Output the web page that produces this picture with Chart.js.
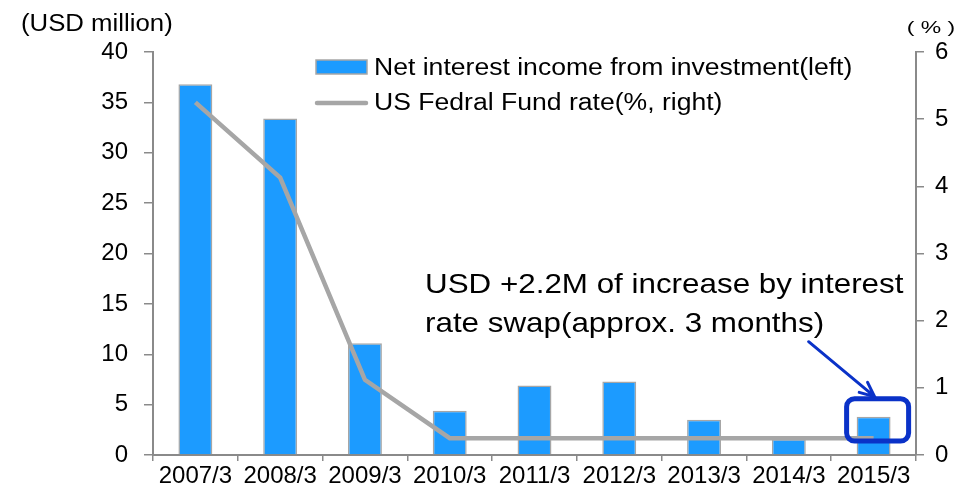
<!DOCTYPE html>
<html>
<head>
<meta charset="utf-8">
<script src="https://cdn.jsdelivr.net/npm/chart.js@4/dist/chart.umd.min.js"></script>
<style>
  html, body { margin: 0; padding: 0; background: #ffffff; }
  #wrap { width: 959px; height: 494px; }
</style>
</head>
<body>
<div id="wrap"><canvas id="c" width="959" height="494"></canvas></div>
<script>
// Fiscal periods
const categories = ['2007/3', '2008/3', '2009/3', '2010/3', '2011/3', '2012/3', '2013/3', '2014/3', '2015/3'];
// Net interest income from investment (USD million, left axis)
const netInterestIncome = [36.8, 33.4, 11.1, 4.4, 6.9, 7.3, 3.5, 1.6, 3.8];
// US Federal Fund rate (%, right axis)
const fedFundRate = [5.25, 4.13, 1.12, 0.25, 0.25, 0.25, 0.25, 0.25, 0.25];
// Axis tick values
const leftTicks = [0, 5, 10, 15, 20, 25, 30, 35, 40];
const rightTicks = [0, 1, 2, 3, 4, 5, 6];

const seriesNames = ['Net interest income from investment(left)', 'US Fedral Fund rate(%, right)'];
const noteLines = ['USD +2.2M of increase by interest', 'rate swap(approx. 3 months)'];

const FONT = "'Liberation Sans', Arial, sans-serif";
const BLUE = '#1C9BFF';
const GREY_LINE = '#a6a6a6';
const AXIS = '#8a8a8a';
const NAVY = '#0a32c8';

function stretchedText(ctx, text, x, y, size, sx, align) {
  ctx.save();
  ctx.font = size + 'px ' + FONT;
  ctx.fillStyle = '#000';
  ctx.textBaseline = 'alphabetic';
  const w = ctx.measureText(text).width * sx;
  let x0 = x;
  if (align === 'right') x0 = x - w;
  if (align === 'center') x0 = x - w / 2;
  ctx.translate(x0, y);
  ctx.scale(sx, 1);
  ctx.textAlign = 'left';
  ctx.fillText(text, 0, 0);
  ctx.restore();
}

const decorations = {
  id: 'decorations',
  afterDraw(chart) {
    const ctx = chart.ctx;
    const xs = chart.scales.x;
    const ys = chart.scales.y;

    // axis unit captions
    stretchedText(ctx, '(USD million)', 21, 31, 23, 1.12, 'left');
    stretchedText(ctx, '( % )', 931, 33, 17, 1.35, 'center');

    // legend
    ctx.save();
    ctx.fillStyle = BLUE;
    ctx.strokeStyle = GREY_LINE;
    ctx.lineWidth = 1.5;
    ctx.fillRect(316, 60, 51, 14);
    ctx.strokeRect(316, 60, 51, 14);
    ctx.strokeStyle = GREY_LINE;
    ctx.lineWidth = 4.5;
    ctx.lineCap = 'round';
    ctx.beginPath();
    ctx.moveTo(317, 103);
    ctx.lineTo(366, 103);
    ctx.stroke();
    ctx.restore();
    stretchedText(ctx, seriesNames[0], 374, 75, 23, 1.155, 'left');
    stretchedText(ctx, seriesNames[1], 374, 110, 23, 1.155, 'left');

    // note text
    stretchedText(ctx, noteLines[0], 425, 293, 28, 1.12, 'left');
    stretchedText(ctx, noteLines[1], 425, 332, 28, 1.12, 'left');

    // highlight box around the latest bar
    const last = categories.length - 1;
    const cx = xs.getPixelForValue(last);
    const top = ys.getPixelForValue(netInterestIncome[last]) - 18;
    const bottom = ys.getPixelForValue(0) - 14;
    const left = cx - 27, right = cx + 35;
    ctx.save();
    ctx.strokeStyle = NAVY;
    ctx.lineWidth = 5;
    ctx.beginPath();
    ctx.roundRect(left, top, right - left, bottom - top, 8);
    ctx.stroke();

    // arrow pointing at the box
    const ex = cx + 1, ey = top - 2;
    const sx = ex - 66, sy = ey - 55;
    ctx.lineWidth = 3;
    ctx.lineCap = 'round';
    ctx.beginPath();
    ctx.moveTo(sx, sy);
    ctx.lineTo(ex, ey);
    const ang = Math.atan2(ey - sy, ex - sx);
    const hl = 16, ha = 0.42;
    ctx.moveTo(ex - hl * Math.cos(ang - ha), ey - hl * Math.sin(ang - ha));
    ctx.lineTo(ex, ey);
    ctx.lineTo(ex - hl * Math.cos(ang + ha), ey - hl * Math.sin(ang + ha));
    ctx.stroke();
    ctx.restore();
  }
};

new Chart(document.getElementById('c'), {
  data: {
    labels: categories,
    datasets: [
      {
        type: 'line',
        label: seriesNames[1],
        data: fedFundRate,
        yAxisID: 'y1',
        borderColor: GREY_LINE,
        borderWidth: 4.5,
        pointRadius: 0,
        tension: 0,
        fill: false,
        order: 0
      },
      {
        type: 'bar',
        label: seriesNames[0],
        data: netInterestIncome,
        yAxisID: 'y',
        backgroundColor: BLUE,
        borderColor: GREY_LINE,
        borderWidth: 1.5,
        borderSkipped: 'bottom',
        barPercentage: 0.4,
        categoryPercentage: 1.0,
        order: 1
      }
    ]
  },
  options: {
    responsive: false,
    animation: false,
    devicePixelRatio: 1,
    layout: { padding: { top: 52, left: 0, right: 0, bottom: 0 } },
    plugins: { legend: { display: false }, tooltip: { enabled: false } },
    scales: {
      x: {
        type: 'category',
        offset: true,
        border: { display: true, color: AXIS, width: 2 },
        grid: { display: true, offset: true, drawOnChartArea: false, drawTicks: true, tickLength: 6, color: AXIS, lineWidth: 1.5 },
        ticks: { color: '#000', font: { family: FONT, size: 24 }, padding: 1, maxRotation: 0, autoSkip: false },
        afterFit(s) { s.height = 39; }
      },
      y: {
        position: 'left',
        min: 0, max: 40,
        afterBuildTicks(s) { s.ticks = leftTicks.map(v => ({ value: v })); },
        border: { display: true, color: AXIS, width: 2 },
        grid: { display: true, drawOnChartArea: false, drawTicks: true, tickLength: 9, color: AXIS, lineWidth: 1.5 },
        ticks: { color: '#000', font: { family: FONT, size: 24 }, padding: 16 },
        afterFit(s) { s.width = 153; }
      },
      y1: {
        position: 'right',
        min: 0, max: 6,
        afterBuildTicks(s) { s.ticks = rightTicks.map(v => ({ value: v })); },
        border: { display: true, color: AXIS, width: 2 },
        grid: { display: true, drawOnChartArea: false, drawTicks: true, tickLength: 8, color: AXIS, lineWidth: 1.5 },
        ticks: { color: '#000', font: { family: FONT, size: 24 }, padding: 11 },
        afterFit(s) { s.width = 43; }
      }
    }
  },
  plugins: [decorations]
});
</script>
</body>
</html>
